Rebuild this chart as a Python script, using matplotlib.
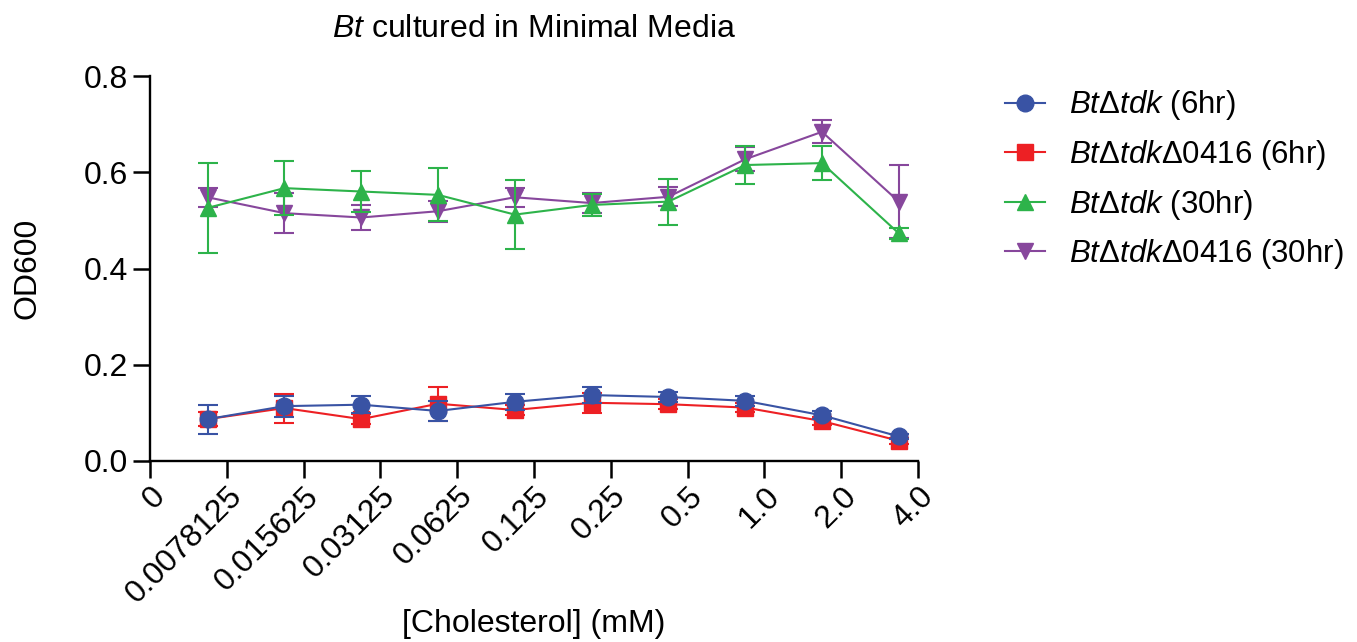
import numpy as np
import matplotlib
matplotlib.use("Agg")
from matplotlib import pyplot as plt
from matplotlib.lines import Line2D

plt.rcParams['font.family'] = ['Liberation Sans', 'DejaVu Sans']
plt.rcParams['mathtext.fontset'] = 'custom'
plt.rcParams['mathtext.it'] = 'Liberation Sans:italic'
plt.rcParams['mathtext.rm'] = 'Liberation Sans'

# x categories (cholesterol, mM)
tick_labels = ["0", "0.0078125", "0.015625", "0.03125", "0.0625", "0.125",
               "0.25", "0.5", "1.0", "2.0", "4.0"]

# OD600 means and error (SD)
tdk_6 = [0.087, 0.114, 0.117, 0.104, 0.123, 0.137, 0.133, 0.125, 0.095, 0.051]
tdk_6_err = [0.030, 0.022, 0.018, 0.020, 0.017, 0.017, 0.010, 0.010, 0.008, 0.006]
d0416_6 = [0.087, 0.110, 0.087, 0.119, 0.106, 0.121, 0.118, 0.111, 0.083, 0.042]
d0416_6_err = [0.015, 0.030, 0.010, 0.035, 0.010, 0.021, 0.010, 0.010, 0.008, 0.006]
tdk_30 = [0.526, 0.567, 0.560, 0.553, 0.512, 0.532, 0.539, 0.615, 0.619, 0.473]
tdk_30_err = [0.094, 0.056, 0.043, 0.055, 0.072, 0.022, 0.048, 0.040, 0.035, 0.012]
d0416_30 = [0.548, 0.515, 0.506, 0.519, 0.548, 0.536, 0.549, 0.627, 0.684, 0.539]
d0416_30_err = [0.020, 0.042, 0.026, 0.022, 0.020, 0.020, 0.020, 0.025, 0.024, 0.076]

blue = "#3953a4"
red = "#ed2024"
green = "#2db34a"
purple = "#87479c"

x = np.arange(1, 11) - 0.25
FS = 23

fig = plt.figure(figsize=(13.57, 6.42), dpi=100)
ax = fig.add_axes([150/1357, 1 - 461/642, 768/1357, 385/642])

series = [
    (tdk_6, tdk_6_err, blue, "o", 12, r"$\mathit{Bt}$Δ$\mathit{tdk}$ (6hr)", 6),
    (d0416_6, d0416_6_err, red, "s", 11, r"$\mathit{Bt}$Δ$\mathit{tdk}$Δ0416 (6hr)", 5),
    (tdk_30, tdk_30_err, green, "^", 12, r"$\mathit{Bt}$Δ$\mathit{tdk}$ (30hr)", 4),
    (d0416_30, d0416_30_err, purple, "v", 12, r"$\mathit{Bt}$Δ$\mathit{tdk}$Δ0416 (30hr)", 3),
]
handles = []
for y, e, c, m, ms, lab, z in series:
    ax.errorbar(x, y, yerr=e, color=c, marker=m, markersize=ms, lw=1.5,
                elinewidth=1.5, capsize=7.5, capthick=1.5,
                zorder=z, clip_on=False)
    handles.append(Line2D([], [], color=c, marker=m, markersize=ms, lw=1.5, label=lab))

ax.set_xlim(0, 10)
ax.set_ylim(0, 0.8)
ax.set_xticks(np.arange(11))
ax.set_xticklabels(tick_labels, rotation=45, ha='right', va='top',
                   rotation_mode='anchor', fontsize=FS)
ax.set_yticks([0, 0.2, 0.4, 0.6, 0.8])
ax.set_yticklabels(["0.0", "0.2", "0.4", "0.6", "0.8"], fontsize=FS)
ax.tick_params(axis='both', direction='out', length=12.5, width=1.8, pad=3)
ax.tick_params(axis='x', pad=2)
for s in ['top', 'right']:
    ax.spines[s].set_visible(False)
for s in ['left', 'bottom']:
    ax.spines[s].set_linewidth(1.7)

ax.set_xlabel("[Cholesterol] (mM)", fontsize=FS, labelpad=0)
ax.set_ylabel("OD600", fontsize=FS, labelpad=30)
ax.set_title(r"$\mathit{Bt}$ cultured in Minimal Media", fontsize=FS, pad=28)

fig.legend(handles=handles, loc='upper left', bbox_to_anchor=(992/1357, 1 - 76/642),
           frameon=False, fontsize=22.5, handlelength=1.3, handletextpad=0.75,
           labelspacing=0.5, borderaxespad=0)

fig.savefig("out.png", dpi=100)
